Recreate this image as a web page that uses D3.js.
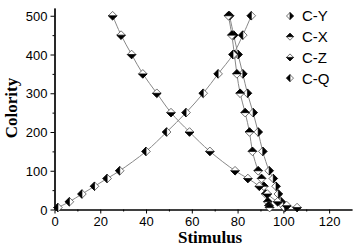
<!DOCTYPE html>
<html>
<head>
<meta charset="utf-8">
<script src="https://cdn.jsdelivr.net/npm/d3@7"></script>
<style>
  body { margin: 0; background: #fff; }
  text { font-family: Arial, "Liberation Sans", sans-serif; }
</style>
</head>
<body>
<script>
let width = 357,
    height = 248

// colority levels (y) shared by the curves
const levelsDown = [500, 450, 400, 350, 300, 250, 200, 150, 100, 80, 60, 40, 20, 10, 5]
const levelsUp = [5, 20, 40, 60, 80, 100, 150, 200, 250, 300, 350, 400, 450, 500]

// stimulus values (x)
const stimulusCY = [76.5, 78.3, 80.2, 82.3, 84.3, 86.8, 89, 91, 93.8, 95.6, 96.8, 97.8, 99, 100, 100.6]
const stimulusCX = [76, 77.5, 78.6, 79.7, 81.1, 83.3, 85.2, 86.5, 89, 90.5, 91.5, 92.3, 93.2, 93.7, 94]
const stimulusCZ = [25.4, 29.1, 33.7, 38.6, 44.7, 50.9, 59, 67.9, 78.9, 84.5, 89.5, 93, 97.5, 101.5, 106]
const stimulusCQ = [1.5, 6.5, 12, 17.5, 23, 28.5, 40, 49, 57.5, 65, 71.5, 78, 82.3, 86]

const seriesNames = ['C-Y', 'C-X', 'C-Z', 'C-Q']
const xTicks = [0, 20, 40, 60, 80, 100, 120]
const yTicks = [0, 100, 200, 300, 400, 500]

const series = [
  {name: 'C-Y', half: 'right', pts: stimulusCY.map((s, i) => [s, levelsDown[i]])},
  {name: 'C-X', half: 'top', pts: stimulusCX.map((s, i) => [s, levelsDown[i]])},
  {name: 'C-Z', half: 'bottom', pts: stimulusCZ.map((s, i) => [s, levelsDown[i]])},
  {name: 'C-Q', half: 'left', pts: stimulusCQ.map((s, i) => [s, levelsUp[i]])}
]

const margin = {left: 54.5, right: 5, top: 8, bottom: 38.5}

let svg = d3.select('body').append('svg')
    .attr('width', width)
    .attr('height', height)

const x = d3.scaleLinear().domain([0, 130]).range([margin.left, width - margin.right])
const y = d3.scaleLinear().domain([0, 520]).range([height - margin.bottom, margin.top])

// axes, outward ticks with minor ones
const xAxis = d3.axisBottom(x).tickValues(xTicks).tickSize(4).tickSizeOuter(0).tickPadding(3)
const xMinor = d3.axisBottom(x).tickValues(d3.range(10, 130, 20)).tickSize(2).tickSizeOuter(0).tickFormat('')
const yAxis = d3.axisLeft(y).tickValues(yTicks).tickSize(4).tickSizeOuter(0).tickPadding(3)
const yMinor = d3.axisLeft(y).tickValues(d3.range(50, 520, 100)).tickSize(2).tickSizeOuter(0).tickFormat('')

let gx = svg.append('g').attr('transform', `translate(0,${y(0)})`).call(xAxis)
svg.append('g').attr('transform', `translate(0,${y(0)})`).call(xMinor)
let gy = svg.append('g').attr('transform', `translate(${x(0)},0)`).call(yAxis)
svg.append('g').attr('transform', `translate(${x(0)},0)`).call(yMinor)

svg.selectAll('.domain').attr('stroke', '#000').attr('stroke-width', 1.2)
svg.selectAll('.tick line').attr('stroke', '#000')
gx.selectAll('text').style('font-size', '13px').attr('fill', '#000')
gy.selectAll('text').style('font-size', '13px').attr('fill', '#000').attr('dy', '0.36em')

// axis titles
svg.append('text')
    .attr('x', x(68))
    .attr('y', 243)
    .attr('text-anchor', 'middle')
    .style('font-family', '"Liberation Serif", "Times New Roman", serif')
    .style('font-weight', 'bold')
    .style('font-size', '17px')
    .text('Stimulus')

svg.append('text')
    .attr('transform', 'translate(17,108) rotate(-90)')
    .attr('text-anchor', 'middle')
    .style('font-family', '"Liberation Serif", "Times New Roman", serif')
    .style('font-weight', 'bold')
    .style('font-size', '17px')
    .text('Colority')

// half-filled diamonds
function halfPath(half, r) {
  if (half === 'left') return `M0,${-r}L${-r},0L0,${r}Z`
  if (half === 'right') return `M0,${-r}L${r},0L0,${r}Z`
  if (half === 'top') return `M${-r},0L0,${-r}L${r},0Z`
  return `M${-r},0L0,${r}L${r},0Z`
}
function diamondPath(r) {
  return `M0,${-r}L${r},0L0,${r}L${-r},0Z`
}
function drawMarker(g, half, r) {
  g.append('path').attr('d', diamondPath(r)).attr('fill', '#fff')
    .attr('stroke', '#333').attr('stroke-width', 0.7)
  g.append('path').attr('d', halfPath(half, r)).attr('fill', '#000')
    .attr('stroke', '#000').attr('stroke-width', 0.7)
}

const line = d3.line()
    .x(d => x(d[0]))
    .y(d => y(d[1]))
    .curve(d3.curveCatmullRom)

let lineGroup = svg.append('g')
series.forEach(s => {
  lineGroup.append('path')
      .datum(s.pts)
      .attr('d', line)
      .attr('fill', 'none')
      .attr('stroke', '#888')
      .attr('stroke-width', 1)
})

let markerGroup = svg.append('g')
series.forEach(s => {
  markerGroup.selectAll(null)
      .data(s.pts)
      .enter().append('g')
      .attr('transform', d => `translate(${x(d[0])},${y(d[1])})`)
      .each(function() { drawMarker(d3.select(this), s.half, 4.3) })
})

// legend
let legend = svg.append('g')
series.forEach((s, i) => {
  let row = legend.append('g').attr('transform', `translate(290,${16 + i * 20.7})`)
  drawMarker(row.append('g'), s.half, 3.5)
  row.append('text')
      .attr('x', 12)
      .attr('dy', '0.36em')
      .style('font-size', '15px')
      .text(seriesNames[i])
})
</script>
</body>
</html>
